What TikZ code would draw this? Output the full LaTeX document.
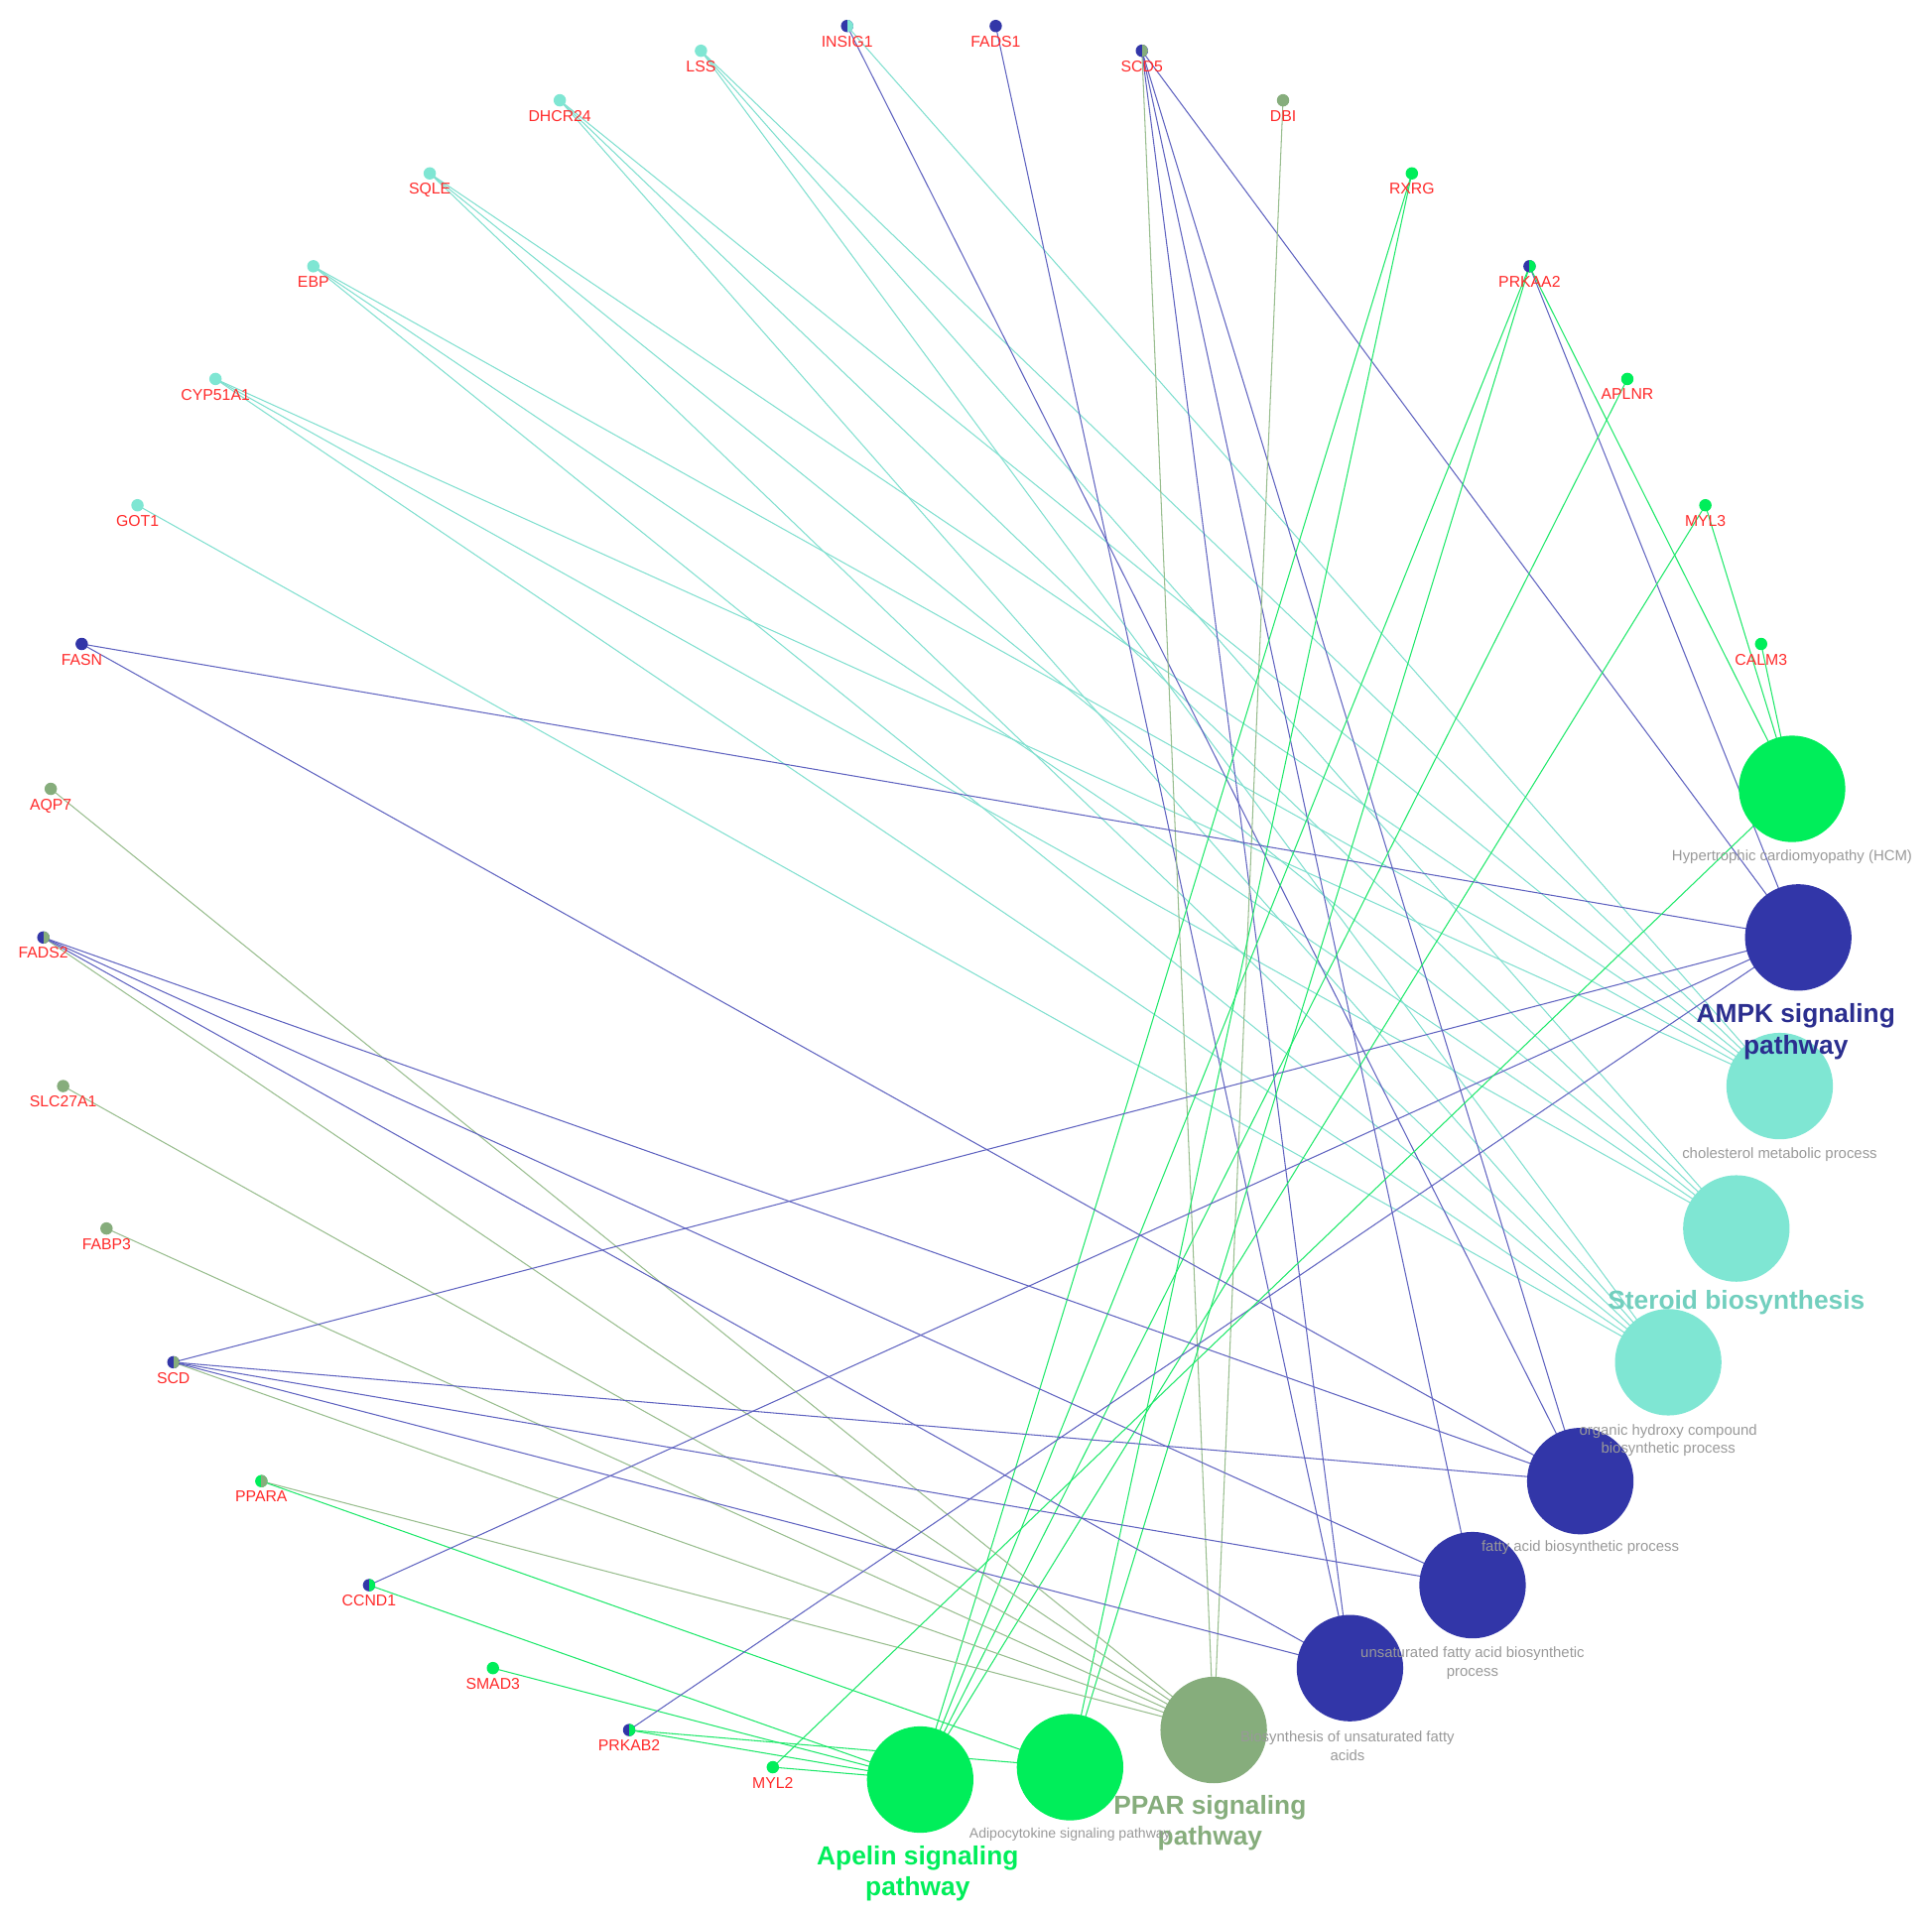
\documentclass[tikz,border=0pt]{standalone}
\usepackage{fontspec}
\setmainfont{Liberation Sans}
\pgfdeclarelayer{bg}\pgfsetlayers{bg,main}
\definecolor{cB}{HTML}{3236A8}
\definecolor{cT}{HTML}{7FE6D3}
\definecolor{cG}{HTML}{00EE5A}
\definecolor{cP}{HTML}{86AD7C}
\definecolor{eB}{HTML}{5F63C0}
\definecolor{eT}{HTML}{80DFCF}
\definecolor{eG}{HTML}{1EE86A}
\definecolor{eP}{HTML}{98BD8E}
\definecolor{lab}{HTML}{FF2A2A}
\begin{document}
\begin{tikzpicture}[x=0.05cm,y=-0.05cm,
 gene/.style 2 args={circle,inner sep=0pt,minimum size=0.5cm,fill=#1,
   label={[text=lab,font=\fontsize{18}{20}\selectfont,inner sep=4pt]below:#2}},
 half/.style={path picture={\fill[#1] (path picture bounding box.north) rectangle (path picture bounding box.south east);}},
 term/.style={circle,inner sep=0pt,minimum size=4.3cm,fill=#1},
 tl/.style={text=gray!80,font=\fontsize{17}{21}\selectfont,align=center},
 bl/.style={font=\bfseries\fontsize{30}{36}\selectfont,align=center,text=#1},
 eb/.style={draw=eB,line width=1.2pt},
 et/.style={draw=eT,line width=1.2pt},
 eg/.style={draw=eG,line width=1.2pt},
 ep/.style={draw=eP,line width=1.2pt}]
\useasboundingbox (0,0) rectangle (1560,1546);
% genes
\node[gene={cB}{INSIG1},half=cT] (INSIG1) at (684,21) {};
\node[gene={cB}{FADS1}] (FADS1) at (804,21) {};
\node[gene={cB}{SCD5},half=cP] (SCD5) at (922,41) {};
\node[gene={cT}{LSS}] (LSS) at (566,41) {};
\node[gene={cP}{DBI}] (DBI) at (1036,81) {};
\node[gene={cT}{DHCR24}] (DHCR24) at (452,81) {};
\node[gene={cG}{RXRG}] (RXRG) at (1140,140) {};
\node[gene={cT}{SQLE}] (SQLE) at (347,140) {};
\node[gene={cB}{PRKAA2},half=cG] (PRKAA2) at (1235,215) {};
\node[gene={cT}{EBP}] (EBP) at (253,215) {};
\node[gene={cG}{APLNR}] (APLNR) at (1314,306) {};
\node[gene={cT}{CYP51A1}] (CYP) at (174,306) {};
\node[gene={cG}{MYL3}] (MYL3) at (1377,408) {};
\node[gene={cT}{GOT1}] (GOT1) at (111,408) {};
\node[gene={cG}{CALM3}] (CALM3) at (1422,520) {};
\node[gene={cB}{FASN}] (FASN) at (66,520) {};
\node[gene={cP}{AQP7}] (AQP7) at (41,637) {};
\node[gene={cB}{FADS2},half=cP] (FADS2) at (35,757) {};
\node[gene={cP}{SLC27A1}] (SLC) at (51,877) {};
\node[gene={cP}{FABP3}] (FABP3) at (86,992) {};
\node[gene={cB}{SCD},half=cP] (SCD) at (140,1100) {};
\node[gene={cG}{PPARA},half=cP] (PPARA) at (211,1196) {};
\node[gene={cB}{CCND1},half=cG] (CCND1) at (298,1280) {};
\node[gene={cG}{SMAD3}] (SMAD3) at (398,1347) {};
\node[gene={cB}{PRKAB2},half=cG] (PRKAB2) at (508,1397) {};
\node[gene={cG}{MYL2}] (MYL2) at (624,1427) {};
% terms
\node[term=cG] (HCM) at (1447,637) {};
\node[term=cB] (AMPK) at (1452,757) {};
\node[term=cT] (CHOL) at (1437,877) {};
\node[term=cT] (STER) at (1402,992) {};
\node[term=cT] (OHC) at (1347,1100) {};
\node[term=cB] (FAB) at (1276,1196) {};
\node[term=cB] (UFAB) at (1189,1280) {};
\node[term=cB] (BUFA) at (1090,1347) {};
\node[term=cP] (PPAR) at (980,1397) {};
\node[term=cG] (ADIPO) at (864,1427) {};
\node[term=cG] (APEL) at (743,1437) {};
% term labels
\node[tl] (lHCM) at (1447,692) {Hypertrophic cardiomyopathy (HCM)};
\node[bl=cB!85!black] (lAMPK) at (1450,833) {AMPK signaling\\pathway};
\node[tl] (lCHOL) at (1437,932) {cholesterol metabolic process};
\node[bl=cT!90!black] (lSTER) at (1402,1052) {Steroid biosynthesis};
\node[tl] (lOHC) at (1347,1163) {organic hydroxy compound\\biosynthetic process};
\node[tl] (lFAB) at (1276,1250) {fatty acid biosynthetic process};
\node[tl] (lUFAB) at (1189,1343) {unsaturated fatty acid biosynthetic\\process};
\node[tl] (lBUFA) at (1088,1410) {Biosynthesis of unsaturated fatty\\acids};
\node[bl=cP] (lPPAR) at (977,1472) {PPAR signaling\\pathway};
\node[tl,font=\fontsize{16}{20}\selectfont] (lADIPO) at (864,1481) {Adipocytokine signaling pathway};
\node[bl=cG] (lAPEL) at (741,1513) {Apelin signaling\\pathway};
\begin{pgfonlayer}{bg}
\foreach \g in {LSS,DHCR24,SQLE,EBP,CYP}{
 \draw[et] (\g.center) -- (CHOL.center);
 \draw[et] (\g.center) -- (STER.center);
 \draw[et] (\g.center) -- (OHC.center);}
\draw[et] (GOT1.center) -- (OHC.center);
\draw[et] (INSIG1.center) -- (CHOL.center);
\draw[eb] (INSIG1.center) -- (FAB.center);
\draw[eb] (FADS1.center) -- (BUFA.center);
\foreach \t in {AMPK,FAB,UFAB,BUFA}{\draw[eb] (SCD5.center) -- (\t.center);}
\draw[ep] (SCD5.center) -- (PPAR.center);
\draw[ep] (DBI.center) -- (PPAR.center);
\draw[eg] (RXRG.center) -- (ADIPO.center);
\draw[eg] (RXRG.center) -- (APEL.center);
\draw[eb] (PRKAA2.center) -- (AMPK.center);
\foreach \t in {HCM,APEL,ADIPO}{\draw[eg] (PRKAA2.center) -- (\t.center);}
\draw[eg] (APLNR.center) -- (APEL.center);
\draw[eg] (MYL3.center) -- (HCM.center);
\draw[eg] (MYL3.center) -- (APEL.center);
\draw[eg] (CALM3.center) -- (HCM.center);
\draw[eb] (FASN.center) -- (AMPK.center);
\draw[eb] (FASN.center) -- (FAB.center);
\foreach \g in {AQP7,SLC,FABP3,FADS2,SCD,PPARA}{\draw[ep] (\g.center) -- (PPAR.center);}
\foreach \t in {FAB,UFAB,BUFA}{\draw[eb] (FADS2.center) -- (\t.center);}
\foreach \t in {AMPK,FAB,UFAB,BUFA}{\draw[eb] (SCD.center) -- (\t.center);}
\draw[eg] (PPARA.center) -- (ADIPO.center);
\draw[eb] (CCND1.center) -- (AMPK.center);
\draw[eg] (CCND1.center) -- (APEL.center);
\draw[eg] (SMAD3.center) -- (APEL.center);
\draw[eb] (PRKAB2.center) -- (AMPK.center);
\draw[eg] (PRKAB2.center) -- (APEL.center);
\draw[eg] (PRKAB2.center) -- (ADIPO.center);
\draw[eg] (MYL2.center) -- (HCM.center);
\draw[eg] (MYL2.center) -- (APEL.center);
\end{pgfonlayer}
\end{tikzpicture}
\end{document}
